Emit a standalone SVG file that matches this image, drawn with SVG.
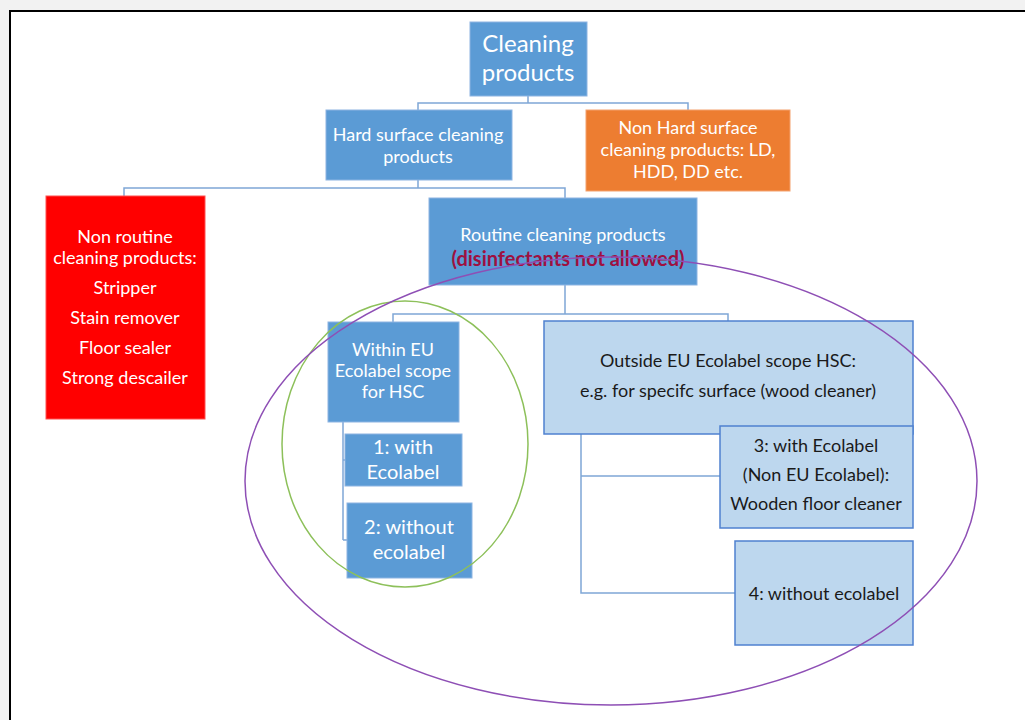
<svg xmlns="http://www.w3.org/2000/svg" width="1025" height="720" viewBox="0 0 1025 720">
<style>
.b{fill:#5B9BD5;stroke:#8DB4E2;stroke-width:1}
.lb{fill:#BDD7EE;stroke:#4F81D0;stroke-width:1.5}
.w{fill:#fff;font-family:Lato,"Open Sans",sans-serif;font-size:18px;text-anchor:middle}
.d{fill:#1a1a1a;font-family:Lato,"Open Sans",sans-serif;font-size:18px;text-anchor:middle}
.c{fill:none;stroke:#7FA7D6;stroke-width:1.5}
</style>
<rect x="0" y="0" width="1025" height="720" fill="#f2f2f2"/>
<rect x="10" y="11" width="1020" height="715" fill="#fff" stroke="#000" stroke-width="2"/>
<g id="connectors">
<path class="c" d="M528 96V103M418 110V103H688V110"/>
<path class="c" d="M418 180V188M124 196V188H565V198"/>
<path class="c" d="M565 285V314M393 322V314H728V321"/>
<path class="c" d="M343 422V540M343 460H345M343 540H347"/>
<path class="c" d="M581 434V593H735M581 476H720"/>
</g>
<g id="cleaning"><rect class="b" x="470" y="22" width="117" height="74"/>
<text class="w" style="font-size:24px" x="528" y="52">Cleaning</text><text class="w" style="font-size:24px" x="528" y="81">products</text></g>
<g id="hard"><rect class="b" x="326" y="110" width="186" height="70"/>
<text class="w" x="418" y="141">Hard surface cleaning</text><text class="w" x="418" y="163">products</text></g>
<g id="nonhard"><rect x="586" y="110" width="204" height="81" fill="#ED7D31" stroke="#F4A26E"/>
<text class="w" x="688" y="134">Non Hard surface</text><text class="w" x="688" y="156">cleaning products:  LD,</text><text class="w" x="688" y="178">HDD, DD etc.</text></g>
<g id="nonroutine"><rect x="46" y="196" width="159" height="223" fill="#FF0000" stroke="#FF5050"/>
<text class="w" x="125" y="243">Non routine</text><text class="w" x="125" y="264">cleaning products:</text><text class="w" x="125" y="294">Stripper</text><text class="w" x="125" y="324">Stain remover</text><text class="w" x="125" y="354">Floor sealer</text><text class="w" x="125" y="384">Strong descailer</text></g>
<g id="routine"><rect class="b" x="429" y="198" width="268" height="87"/>
<text class="w" x="563" y="241">Routine cleaning products</text>
<text x="568" y="266" style="fill:#9E1040;font-family:Lato,'Open Sans',sans-serif;font-size:20px;font-weight:bold;text-anchor:middle">(disinfectants not allowed)</text></g>
<g id="within"><rect class="b" x="328" y="322" width="131" height="100"/>
<text class="w" x="393" y="356">Within EU</text><text class="w" x="393" y="377">Ecolabel scope</text><text class="w" x="393" y="398">for HSC</text></g>
<g id="outside"><rect class="lb" x="544" y="321" width="369" height="113"/>
<text class="d" x="728" y="367">Outside EU Ecolabel scope HSC:</text><text class="d" x="728" y="397">e.g. for specifc surface (wood cleaner)</text></g>
<g id="n1"><rect class="b" x="345" y="434" width="117" height="52"/>
<text class="w" style="font-size:20px" x="403" y="454">1: with</text><text class="w" style="font-size:20px" x="403" y="479">Ecolabel</text></g>
<g id="n2"><rect class="b" x="347" y="503" width="125" height="75"/>
<text class="w" style="font-size:20px" x="409" y="534">2: without</text><text class="w" style="font-size:20px" x="409" y="559">ecolabel</text></g>
<g id="n3"><rect class="lb" x="720" y="426" width="193" height="102"/>
<text class="d" x="816" y="452">3: with Ecolabel</text><text class="d" x="816" y="481">(Non EU  Ecolabel):</text><text class="d" x="816" y="510">Wooden floor cleaner</text></g>
<g id="n4"><rect class="lb" x="735" y="541" width="178" height="104"/>
<text class="d" x="824" y="600">4: without ecolabel</text></g>
<g id="ellipses">
<ellipse cx="405" cy="444" rx="123" ry="143" fill="none" stroke="#8DC05A" stroke-width="1.5"/>
<ellipse cx="611" cy="481" rx="366" ry="224" fill="none" stroke="#8E4FB5" stroke-width="1.5"/>
</g>
</svg>
